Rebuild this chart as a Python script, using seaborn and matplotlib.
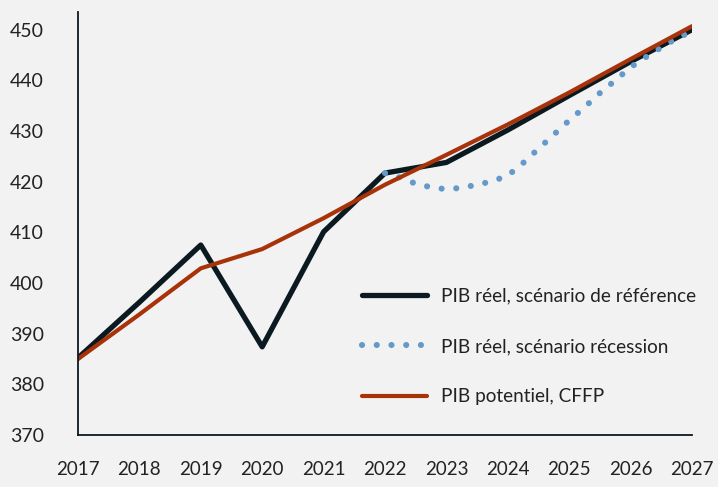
import seaborn as sns
import matplotlib.pyplot as plt
import pandas as pd

years = list(range(2017, 2028))
pib_reference = [385.2, 396.2, 407.5, 387.4, 410.1, 421.7, 423.8, 430.2, 437.0, 443.7, 450.0]
pib_potentiel = [385.0, 393.8, 402.9, 406.7, 412.8, 419.4, 425.3, 431.3, 437.6, 444.2, 450.7]

rec_quarters = [2022 + q / 4 for q in range(21)]
pib_recession = [421.7, 420.8, 419.6, 418.9, 418.5, 418.8, 419.4, 420.1, 421.2, 423.7,
                 426.5, 429.3, 432.1, 434.7, 437.5, 440.0, 442.6, 444.6, 446.5, 448.3, 449.7]

yticks = list(range(370, 451, 10))

BG = "#f2f2f2"
DARK = "#0a1a20"
BLUE = "#6399cb"
RED = "#a83209"

df_ref = pd.DataFrame({"annee": years, "pib": pib_reference})
df_pot = pd.DataFrame({"annee": years, "pib": pib_potentiel})
df_rec = pd.DataFrame({"annee": rec_quarters, "pib": pib_recession})

sns.set_style("white")
plt.rcParams["font.family"] = ["Lato", "DejaVu Sans"]

fig = plt.figure(figsize=(7.18, 4.87), dpi=100, facecolor=BG)
ax = fig.add_axes([0.1086, 0.1068, 0.8552, 0.8686])
ax.set_facecolor(BG)

sns.lineplot(data=df_ref, x="annee", y="pib", ax=ax, color=DARK, linewidth=3.8,
             label="PIB réel, scénario de référence", solid_capstyle="round")
sns.lineplot(data=df_rec, x="annee", y="pib", ax=ax, color=BLUE, linewidth=4.4,
             linestyle=(0, (0.01, 2.4)), dash_capstyle="round",
             label="PIB réel, scénario récession")
sns.lineplot(data=df_pot, x="annee", y="pib", ax=ax, color=RED, linewidth=3.0,
             label="PIB potentiel, CFFP", solid_capstyle="round")

ax.set_xlim(2017, 2027)
ax.set_ylim(370, 453.5)
ax.set_xticks(years)
ax.set_yticks(yticks)
ax.set_xlabel("")
ax.set_ylabel("")

for side in ["top", "right"]:
    ax.spines[side].set_visible(False)
for side in ["left", "bottom"]:
    ax.spines[side].set_color(DARK)
    ax.spines[side].set_linewidth(1.3)

ax.tick_params(axis="x", direction="out", length=8, width=1.2, color=DARK,
               pad=11, labelsize=13.5, labelcolor="#222222")
ax.tick_params(axis="y", length=0, pad=49, labelsize=14, labelcolor="#222222")
for lbl in ax.get_yticklabels():
    lbl.set_horizontalalignment("left")

ax.legend(loc="center left", bbox_to_anchor=(0.4625, 0.209), frameon=False,
          borderaxespad=0, borderpad=0,
          fontsize=13.7, handlelength=3.4, handletextpad=0.75, labelspacing=1.75,
          labelcolor="#222222")

fig.savefig("out.png", dpi=100, facecolor=BG)
